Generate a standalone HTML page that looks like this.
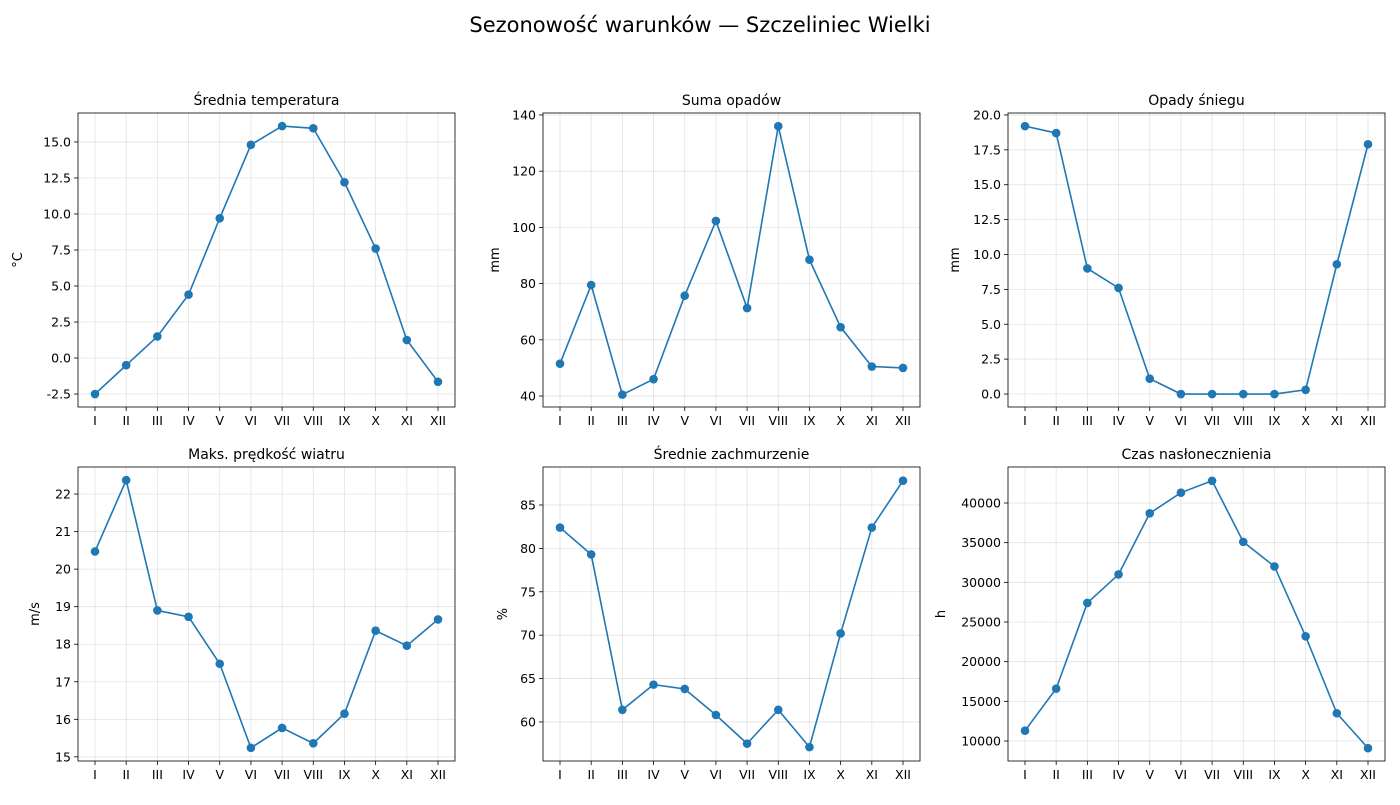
<!DOCTYPE html>
<html><head><meta charset="utf-8"><style>
body{margin:0;background:#fff;font-family:"Liberation Sans","DejaVu Sans",sans-serif}
svg text{font-family:"DejaVu Sans","Liberation Sans",sans-serif;fill:#000}
</style></head><body>
<svg id="fig" width="1400" height="800" xmlns="http://www.w3.org/2000/svg">
<rect width="1400" height="800" fill="#fff"/>
<text x="700" y="32" font-size="21" text-anchor="middle">Sezonowość warunków — Szczeliniec Wielki</text>
</svg>
<script>
const months=["I","II","III","IV","V","VI","VII","VIII","IX","X","XI","XII"];
const tempValues=[-2.5,-0.5,1.5,4.4,9.7,14.8,16.1,15.95,12.2,7.6,1.25,-1.65];
const precipValues=[51.5,79.5,40.5,46,75.7,102.3,71.3,136,88.5,64.5,50.5,50];
const snowValues=[19.2,18.7,9.0,7.6,1.1,0,0,0,0,0.3,9.3,17.9];
const windValues=[20.47,22.37,18.9,18.73,17.48,15.24,15.77,15.36,16.15,18.36,17.96,18.66];
const cloudValues=[82.4,79.3,61.4,64.3,63.8,60.8,57.5,61.4,57.1,70.2,82.4,87.8];
const sunValues=[11300,16600,27400,31000,38700,41300,42800,35100,32000,23200,13500,9100];
const tempTicks=[-2.5,0,2.5,5,7.5,10,12.5,15];
const precipTicks=[40,60,80,100,120,140];
const snowTicks=[0,2.5,5,7.5,10,12.5,15,17.5,20];
const windTicks=[15,16,17,18,19,20,21,22];
const cloudTicks=[60,65,70,75,80,85];
const sunTicks=[10000,15000,20000,25000,30000,35000,40000];

const panels=[
 {name:"temperature",title:"Średnia temperatura",unit:"°C",vals:tempValues,ticks:tempTicks,dec:1,ymin:-3.4,ymax:17.01,x:78,y:113,ux:22},
 {name:"precipitation",title:"Suma opadów",unit:"mm",vals:precipValues,ticks:precipTicks,dec:0,ymin:36.1,ymax:140.7,x:543,y:113,ux:499},
 {name:"snowfall",title:"Opady śniegu",unit:"mm",vals:snowValues,ticks:snowTicks,dec:1,ymin:-0.93,ymax:20.14,x:1008,y:113,ux:959},
 {name:"wind",title:"Maks. prędkość wiatru",unit:"m/s",vals:windValues,ticks:windTicks,dec:0,ymin:14.89,ymax:22.72,x:78,y:467,ux:39},
 {name:"cloud",title:"Średnie zachmurzenie",unit:"%",vals:cloudValues,ticks:cloudTicks,dec:0,ymin:55.5,ymax:89.38,x:543,y:467,ux:507},
 {name:"sunshine",title:"Czas nasłonecznienia",unit:"h",vals:sunValues,ticks:sunTicks,dec:0,ymin:7480,ymax:44538,x:1008,y:467,ux:945}
];
const W=377,H=294,NS="http://www.w3.org/2000/svg";
const fig=document.getElementById('fig');
function mk(tag,attrs,parent){const e=document.createElementNS(NS,tag);for(const k in attrs)e.setAttribute(k,attrs[k]);parent.appendChild(e);return e;}
panels.forEach(p=>{
 const g=mk('g',{},fig);
 
 
 const xs=i=>p.x+17+i*(W-34)/11;
 const ys=v=>p.y+H-(v-p.ymin)/(p.ymax-p.ymin)*H;
 months.forEach((m,i)=>{
  const X=xs(i);
  mk('line',{x1:X,x2:X,y1:p.y,y2:p.y+H,stroke:"#b0b0b0","stroke-opacity":0.35,"stroke-width":0.8},g);
  mk('line',{x1:X,x2:X,y1:p.y+H,y2:p.y+H+4,stroke:"#000","stroke-width":0.8},g);
  const t=mk('text',{x:X,y:p.y+H+18,"font-size":12.5,"text-anchor":"middle"},g);t.textContent=m;
  
  
 });
 p.ticks.forEach(v=>{
  const Y=ys(v);
  mk('line',{x1:p.x,x2:p.x+W,y1:Y,y2:Y,stroke:"#b0b0b0","stroke-opacity":0.35,"stroke-width":0.8},g);
  mk('line',{x1:p.x-4,x2:p.x,y1:Y,y2:Y,stroke:"#000","stroke-width":0.8},g);
  const t=mk('text',{x:p.x-7,y:Y+4.5,"font-size":12.5,"text-anchor":"end"},g);t.textContent=v.toFixed(p.dec);
  
  
 });
 mk('rect',{x:p.x,y:p.y,width:W,height:H,fill:"none",stroke:"#000","stroke-width":0.8},g);
 const pts=p.vals.map((v,i)=>xs(i)+","+ys(v)).join(" ");
 const ln=mk('polyline',{points:pts,fill:"none",stroke:"#1f77b4","stroke-width":1.6},g);
 
 
 p.vals.forEach((v,i)=>{
  const c=mk('circle',{cx:xs(i),cy:ys(v),r:4.3,fill:"#1f77b4"},g);
  
  
 });
 const tt=mk('text',{x:p.x+W/2,y:p.y-8,"font-size":14,"text-anchor":"middle"},g);tt.textContent=p.title;
 
 
 const yl=mk('text',{x:p.ux,y:p.y+H/2,"font-size":13,"text-anchor":"middle",transform:`rotate(-90 ${p.ux} ${p.y+H/2})`},g);yl.textContent=p.unit;
 
 
});
</script>
</body></html>
